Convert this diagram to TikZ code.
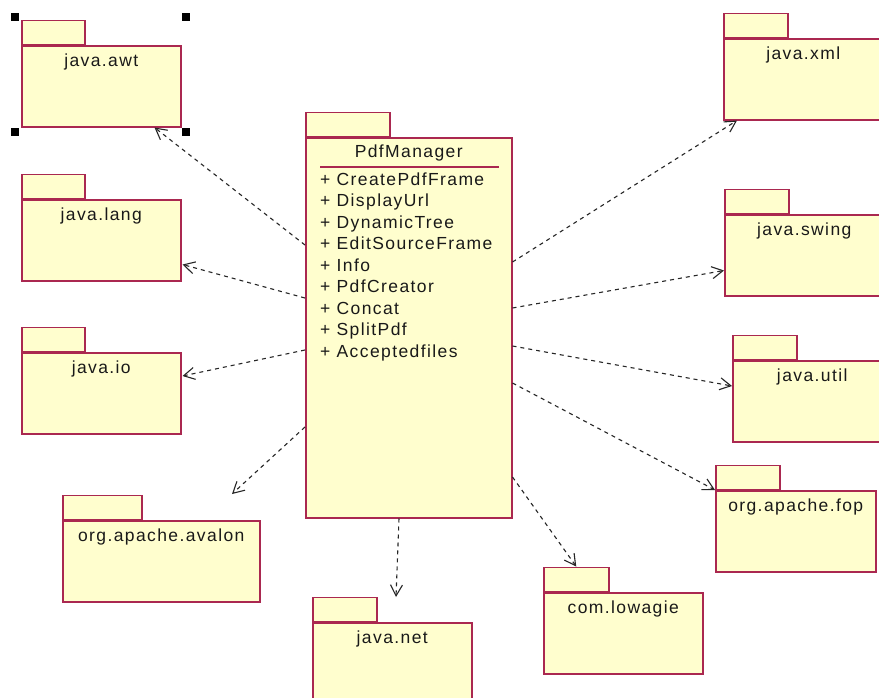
\documentclass[tikz,border=0pt]{standalone}
\usepackage{fontspec}
\setmainfont{Liberation Sans}[LetterSpace=8]
\usetikzlibrary{arrows.meta}
\definecolor{pkgred}{RGB}{170,40,80}
\definecolor{pkgfill}{RGB}{255,254,206}
\definecolor{txtgray}{RGB}{25,25,25}
\tikzset{
	pkg/.style={draw=pkgred, fill=pkgfill, line width=1.5pt, inner sep=0pt, anchor=north west, minimum width=159pt, minimum height=81pt},
	pkgtab/.style={draw=pkgred, fill=pkgfill, line width=1.5pt, inner sep=0pt, anchor=south west, minimum width=63pt, minimum height=24pt},
	pkgname/.style={anchor=base, inner sep=0pt, text=txtgray, font=\fontsize{17.5}{21}\selectfont},
	dep/.style={black!85, line width=1.1pt, dash pattern=on 4pt off 4pt, -{Straight Barb[length=11pt,width=12pt]}},
	handle/.style={fill=black, inner sep=0pt, minimum size=8pt}
}

\begin{document}
\begin{tikzpicture}[x=1pt, y=-1pt]
	\clip (0,0) rectangle (879,697);
	\fill[white] (0,0) rectangle (879,697);

	% left column
	\node[pkg] (awt) at (21,45) {};
	\node[pkgtab] (awttab) at (awt.north west) {};
	\node[pkgname] (awtname) at ([yshift=-21pt]awt.north) {java.awt};
	\node[pkg] (lang) at (21,199) {};
	\node[pkgtab] (langtab) at (lang.north west) {};
	\node[pkgname] (langname) at ([yshift=-21pt]lang.north) {java.lang};
	\node[pkg] (io) at (21,352) {};
	\node[pkgtab] (iotab) at (io.north west) {};
	\node[pkgname] (ioname) at ([yshift=-21pt]io.north) {java.io};
	\node[pkg, minimum width=197pt] (avalon) at (62,520) {};
	\node[pkgtab, minimum width=79pt] (avalontab) at (avalon.north west) {};
	\node[pkgname] (avalonname) at ([yshift=-21pt]avalon.north) {org.apache.avalon};

	% bottom
	\node[pkg] (net) at (312,622) {};
	\node[pkgtab, minimum width=64pt] (nettab) at (net.north west) {};
	\node[pkgname] (netname) at ([yshift=-21pt]net.north) {java.net};
	\node[pkg] (lowagie) at (543,592) {};
	\node[pkgtab, minimum width=65pt] (lowagietab) at (lowagie.north west) {};
	\node[pkgname] (lowagiename) at ([yshift=-21pt]lowagie.north) {com.lowagie};

	% right column
	\node[pkg, minimum width=160pt] (fop) at (715,490) {};
	\node[pkgtab, minimum width=64pt] (foptab) at (fop.north west) {};
	\node[pkgname] (fopname) at ([yshift=-21pt]fop.north) {org.apache.fop};
	\node[pkg] (util) at (732,360) {};
	\node[pkgtab, minimum width=64pt] (utiltab) at (util.north west) {};
	\node[pkgname] (utilname) at ([yshift=-21pt]util.north) {java.util};
	\node[pkg] (swing) at (724,214) {};
	\node[pkgtab, minimum width=64pt] (swingtab) at (swing.north west) {};
	\node[pkgname] (swingname) at ([yshift=-21pt]swing.north) {java.swing};
	\node[pkg] (xml) at (723,38) {};
	\node[pkgtab, minimum width=64pt] (xmltab) at (xml.north west) {};
	\node[pkgname] (xmlname) at ([yshift=-21pt]xml.north) {java.xml};

	% PdfManager in the middle
	\node[pkg, minimum width=206pt, minimum height=380pt] (pdf) at (305,137) {};
	\node[pkgtab, minimum width=84pt] (pdftab) at (pdf.north west) {};
	\node[pkgname] (pdfname) at ([yshift=-20pt]pdf.north) {PdfManager};
	\draw[pkgred, line width=1.2pt] ([xshift=15pt, yshift=-30pt]pdf.north west) -- ([xshift=-14pt, yshift=-30pt]pdf.north east);
	\foreach \op [count=\i] in {CreatePdfFrame, DisplayUrl, DynamicTree, EditSourceFrame, Info, PdfCreator, Concat, SplitPdf, Acceptedfiles}
		\node[pkgname, anchor=base west] (op\i) at ([xshift=15pt, yshift={-48pt-21.5pt*(\i-1)}]pdf.north west) {+ \op};

	% dependencies
	\draw[dep] ([yshift=-108pt]pdf.north west) -- ([xshift=-27pt]awt.south east);
	\draw[dep] ([yshift=-161pt]pdf.north west) -- ([xshift=1pt, yshift=17pt]lang.south east);
	\draw[dep] ([yshift=-213pt]pdf.north west) -- ([xshift=1pt, yshift=-24pt]io.north east);
	\draw[dep] ([yshift=-290pt]pdf.north west) -- ([xshift=170pt, yshift=26pt]avalon.north west);
	\draw[dep] ([xshift=94pt]pdf.south west) -- ([xshift=84pt, yshift=25pt]net.north west);
	\draw[dep] ([yshift=-340pt]pdf.north east) -- (lowagietab.north);
	\draw[dep] ([yshift=-246pt]pdf.north east) -- (fop.north west);
	\draw[dep] ([yshift=-209pt]pdf.north east) -- ([yshift=-26pt]util.north west);
	\draw[dep] ([yshift=-171pt]pdf.north east) -- ([yshift=26pt]swing.south west);
	\draw[dep] ([yshift=-125pt]pdf.north east) -- ([xshift=14pt]xml.south west);

	% selection handles round java.awt
	\node[handle] (h1) at (15,17) {};
	\node[handle] (h2) at (186,17) {};
	\node[handle] (h3) at (15,132) {};
	\node[handle] (h4) at (186,132) {};
\end{tikzpicture}
\end{document}
